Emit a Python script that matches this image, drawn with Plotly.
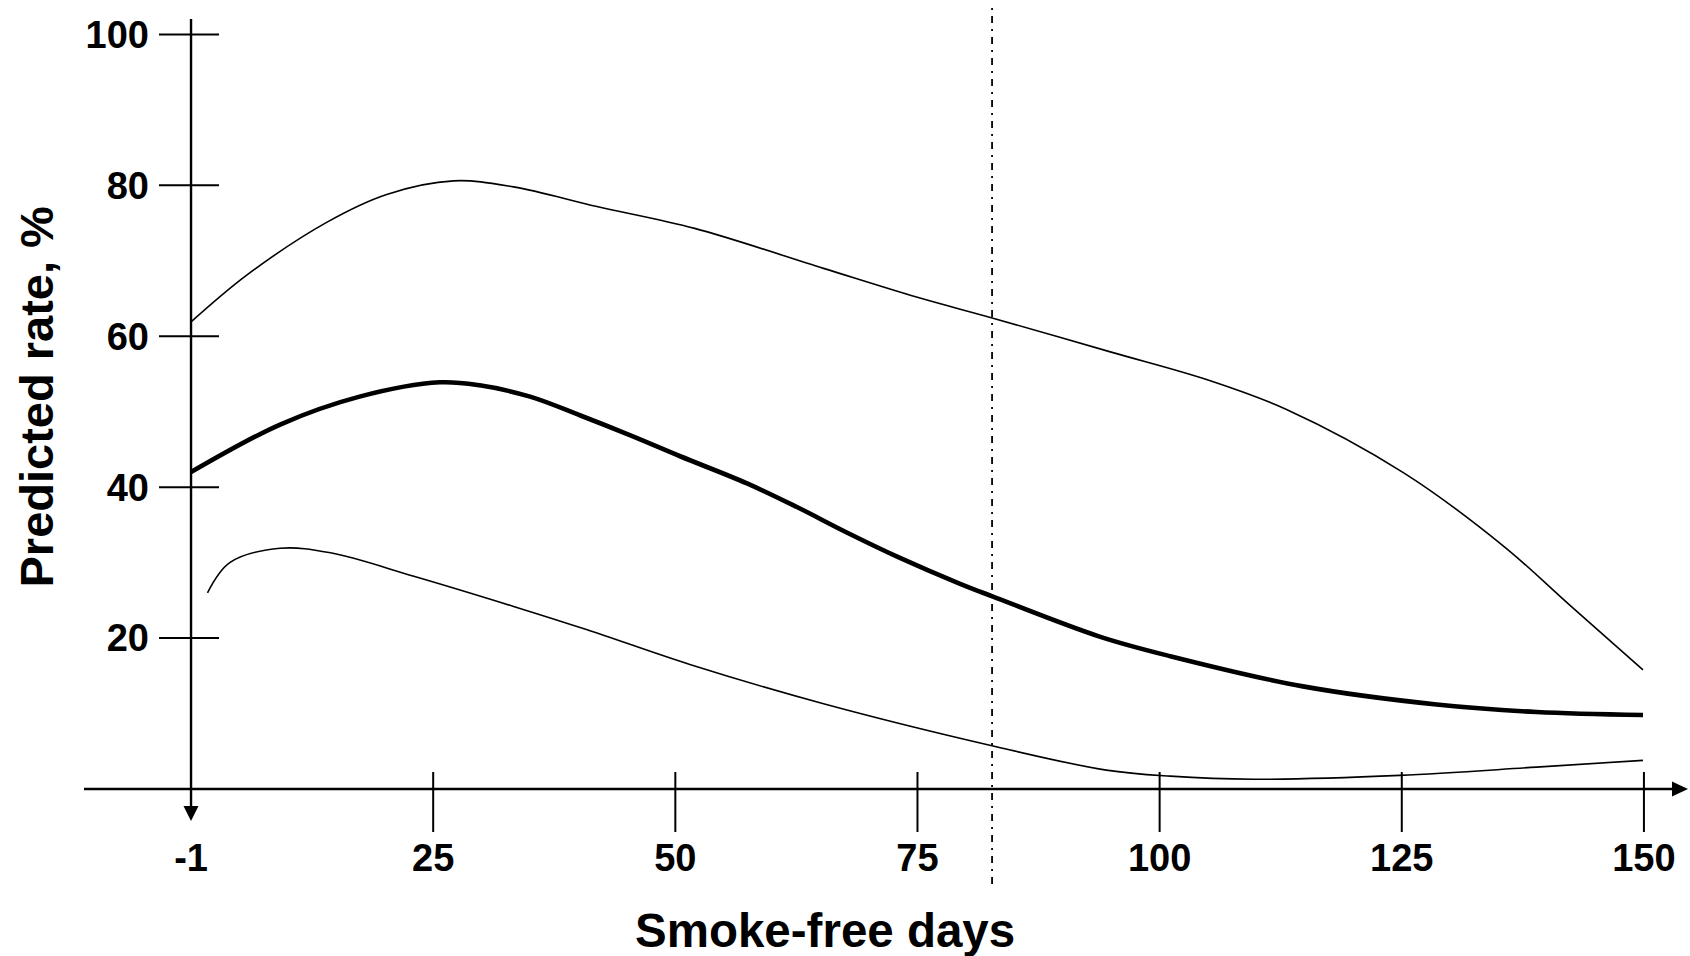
import plotly.graph_objects as go

# ---------------- data ----------------
# x positions: the tick labelled "-1" sits at position 0
tick_pos = [0, 25, 50, 75, 100, 125, 150]
tick_text = ["-1", "25", "50", "75", "100", "125", "150"]
y_ticks = [20, 40, 60, 80, 100]

upper_x = [0, 5.75, 14.0, 20.2, 27.1, 33.3, 41.9, 52.0, 65.3, 74.9, 82.8, 95.0, 105.0, 113.1, 125.2, 135.5, 142.4, 149.9]
upper_y = [61.9, 68.1, 75.1, 78.8, 80.6, 79.8, 77.2, 74.3, 69.0, 65.2, 62.4, 57.9, 54.2, 50.3, 41.9, 32.2, 24.3, 15.8]

mid_x = [0, 9.2, 17.4, 25.7, 29.8, 35.0, 40.2, 45.3, 50.5, 57.4, 62.5, 67.7, 72.9, 79.4, 82.8, 93.8, 101.1, 114.8, 128.6, 138.9, 149.9]
mid_y = [42.0, 48.3, 52.0, 53.9, 53.5, 52.0, 49.5, 46.9, 44.1, 40.5, 37.4, 34.0, 30.8, 27.2, 25.5, 20.2, 17.6, 13.6, 11.2, 10.2, 9.8]

lower_x = [1.7, 4.0, 9.2, 14.4, 23.0, 33.3, 40.9, 51.5, 65.3, 82.8, 94.5, 101.1, 109.7, 124.8, 138.9, 149.9]
lower_y = [26.0, 30.0, 31.9, 31.3, 28.2, 24.2, 21.1, 16.5, 11.3, 5.7, 2.5, 1.7, 1.3, 1.8, 2.9, 3.8]

cutoff_day = 82.7

# ---------------- layout geometry ----------------
W, H = 1690, 956
ML, MR, MT, MB = 84, 2, 19, 167
PW = W - ML - MR
PH = H - MT - MB
X_RANGE = [-11.05, 154.55]
Y_RANGE = [0, 102.05]
FONT = "Liberation Sans, Arial, sans-serif"


def px_x(p):
    return (p - ML) / PW


def px_y(p):
    return (H - MB - p) / PH


fig = go.Figure()

for xs, ys, w in [(upper_x, upper_y, 1.6), (mid_x, mid_y, 4.6), (lower_x, lower_y, 1.6)]:
    fig.add_trace(go.Scatter(
        x=xs, y=ys, mode="lines",
        line=dict(color="black", width=w, shape="spline", smoothing=1.0),
        hoverinfo="skip", showlegend=False,
    ))

shapes = []
axis_w = 2.4
# x axis line
shapes.append(dict(type="line", xref="paper", yref="paper",
                   x0=0, x1=px_x(1673), y0=0, y1=0,
                   line=dict(color="black", width=axis_w)))
# x arrow head
shapes.append(dict(type="path", xref="paper", yref="paper",
                   path=f"M {px_x(1672)},{px_y(781.5)} L {px_x(1688)},{px_y(789)} L {px_x(1672)},{px_y(796.5)} Z",
                   fillcolor="black", line=dict(color="black", width=0)))
# y axis line
shapes.append(dict(type="line", xref="x", yref="paper",
                   x0=0, x1=0, y0=px_y(807), y1=1,
                   line=dict(color="black", width=axis_w)))
# y arrow head (pointing down)
x0p = px_x(191)
shapes.append(dict(type="path", xref="paper", yref="paper",
                   path=f"M {px_x(183.5)},{px_y(806)} L {x0p},{px_y(821)} L {px_x(198.5)},{px_y(806)} Z",
                   fillcolor="black", line=dict(color="black", width=0)))
# y tick marks (cross the axis)
for v in y_ticks:
    shapes.append(dict(type="line", xref="paper", yref="y",
                       x0=px_x(159), x1=px_x(219), y0=v, y1=v,
                       line=dict(color="black", width=2)))
# x tick marks (cross the axis)
for v in tick_pos[1:]:
    shapes.append(dict(type="line", xref="x", yref="paper",
                       x0=v, x1=v, y0=px_y(772), y1=px_y(832),
                       line=dict(color="black", width=2)))
# vertical dash-dot reference line
shapes.append(dict(type="line", xref="x", yref="paper",
                   x0=cutoff_day, x1=cutoff_day, y0=px_y(884), y1=px_y(6),
                   line=dict(color="black", width=1.8, dash="7px,6px,2px,6px")))

fig.update_layout(
    width=W, height=H,
    margin=dict(l=ML, r=MR, t=MT, b=MB, pad=0),
    plot_bgcolor="white", paper_bgcolor="white",
    font=dict(family=FONT, color="black"),
    shapes=shapes,
    xaxis=dict(range=X_RANGE, showgrid=False, zeroline=False, showline=False,
               tickvals=tick_pos, ticktext=tick_text, ticks="",
               tickfont=dict(family=FONT, size=38, color="black", weight="bold"),
               ticklabelstandoff=43, fixedrange=True),
    yaxis=dict(range=Y_RANGE, showgrid=False, zeroline=False, showline=False,
               anchor="free", position=px_x(191),
               tickvals=y_ticks, ticktext=[str(v) for v in y_ticks], ticks="",
               tickfont=dict(family=FONT, size=38, color="black", weight="bold"),
               ticklabelstandoff=42, fixedrange=True),
    annotations=[
        dict(text="Smoke-free days", xref="paper", yref="paper",
             x=px_x(825), y=px_y(930), xanchor="center", yanchor="middle",
             showarrow=False,
             font=dict(family=FONT, size=47.5, color="black", weight="bold")),
        dict(text="Predicted rate, %", xref="paper", yref="paper",
             x=px_x(36), y=px_y(397.5), xanchor="center", yanchor="middle",
             textangle=-90, showarrow=False,
             font=dict(family=FONT, size=47, color="black", weight="bold")),
    ],
)

fig.write_html(
    "out.html",
    config={"displayModeBar": False},
    post_script="document.body.style.margin='0';document.body.style.overflow='hidden';",
)
